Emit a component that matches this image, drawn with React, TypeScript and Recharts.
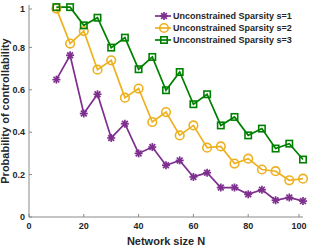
import { Legend, Line, LineChart, XAxis, YAxis } from "recharts";

const SIZES = [10, 15, 20, 25, 30, 35, 40, 45, 50, 55, 60, 65, 70, 75, 80, 85, 90, 95, 100];
const S1 = [0.648, 0.763, 0.488, 0.579, 0.373, 0.44, 0.3, 0.33, 0.244, 0.267, 0.189, 0.209, 0.139, 0.139, 0.107, 0.129, 0.079, 0.092, 0.075];
const S2 = [0.983, 0.818, 0.877, 0.695, 0.739, 0.563, 0.606, 0.448, 0.495, 0.385, 0.432, 0.327, 0.333, 0.252, 0.275, 0.224, 0.216, 0.173, 0.181];
const S3 = [0.99, 0.99, 0.904, 0.94, 0.799, 0.846, 0.697, 0.755, 0.598, 0.684, 0.532, 0.579, 0.432, 0.472, 0.385, 0.417, 0.323, 0.346, 0.271];

const X_TICKS = [0, 20, 40, 60, 80, 100];
const Y_TICKS = [0, 0.2, 0.4, 0.6, 0.8, 1];

const FONT = "'Liberation Sans', Arial, sans-serif";
const AXIS = "#8a8a8a";
const INK = "#262626";

const SERIES = [
  { key: "s1", name: "Unconstrained Sparsity s=1", color: "#7E2F8E", marker: "star" },
  { key: "s2", name: "Unconstrained Sparsity s=2", color: "#EDB120", marker: "circle" },
  { key: "s3", name: "Unconstrained Sparsity s=3", color: "#008000", marker: "square" },
];

const data = SIZES.map((n, i) => ({ n, s1: S1[i], s2: S2[i], s3: S3[i] }));

function Marker({ cx, cy, kind, color }: any) {
  if (cx == null || cy == null) return null;
  if (kind === "circle") {
    return <circle cx={cx} cy={cy} r={4.3} fill="none" stroke={color} strokeWidth={1.6} />;
  }
  if (kind === "square") {
    return <rect x={cx - 3.2} y={cy - 3.2} width={6.4} height={6.4} fill="none" stroke={color} strokeWidth={1.6} />;
  }
  const r = 4;
  const d = r * 0.72;
  return (
    <g stroke={color} strokeWidth={1.7}>
      <line x1={cx - r} y1={cy} x2={cx + r} y2={cy} />
      <line x1={cx} y1={cy - r} x2={cx} y2={cy + r} />
      <line x1={cx - d} y1={cy - d} x2={cx + d} y2={cy + d} />
      <line x1={cx - d} y1={cy + d} x2={cx + d} y2={cy - d} />
    </g>
  );
}

const TICK_TEXT = { fontFamily: FONT, fontSize: 9, fontWeight: 700, fill: INK };
const TITLE_TEXT = { fontFamily: FONT, fontSize: 11, fontWeight: 700, fill: INK };

function BottomTick({ x, y, payload }: any) {
  return (
    <g>
      <line x1={x} x2={x} y1={y - 6} y2={y - 9} stroke={AXIS} />
      <text x={x} y={y} dy="0.71em" textAnchor="middle" {...TICK_TEXT}>
        {payload.value}
      </text>
    </g>
  );
}

function LeftTick({ x, y, payload }: any) {
  return (
    <g>
      <line x1={x + 4} x2={x + 7} y1={y} y2={y} stroke={AXIS} />
      <text x={x} y={y} dy="0.35em" textAnchor="end" {...TICK_TEXT}>
        {payload.value}
      </text>
    </g>
  );
}

function TopTick({ x, y }: any) {
  return <line x1={x} x2={x} y1={y} y2={y + 3} stroke={AXIS} />;
}

function RightTick({ x, y }: any) {
  return <line x1={x} x2={x - 3} y1={y} y2={y} stroke={AXIS} />;
}

function YTitle({ viewBox }: any) {
  const cx = 9;
  const cy = viewBox.y + viewBox.height / 2;
  return (
    <text x={cx} y={cy} textAnchor="middle" transform={`rotate(-90, ${cx}, ${cy})`} {...TITLE_TEXT}>
      Probability of controllability
    </text>
  );
}

function LegendBox() {
  return (
    <div style={{ fontFamily: FONT, fontSize: 9, fontWeight: 700, color: INK }}>
      {SERIES.map((s) => (
        <div key={s.key} style={{ display: "flex", alignItems: "center", height: 12.3 }}>
          <svg width={18} height={12} style={{ marginRight: 1, flex: "none" }}>
            <line x1={1} x2={17} y1={6} y2={6} stroke={s.color} strokeWidth={1.7} />
            <Marker cx={10} cy={6} kind={s.marker} color={s.color} />
          </svg>
          <span style={{ whiteSpace: "nowrap" }}>{s.name}</span>
        </div>
      ))}
    </div>
  );
}

export default function App() {
  return (
    <div style={{ position: "absolute", left: 0, top: 0, width: 311, height: 246, background: "#fff" }}>
      <LineChart width={311} height={246} data={data} margin={{ top: 5, right: 8, bottom: 0, left: 0 }}>
        <XAxis
          dataKey="n"
          type="number"
          domain={[0, 100]}
          ticks={X_TICKS}
          tickSize={0}
          tickMargin={6}
          tick={<BottomTick />}
          height={29}
          stroke={AXIS}
          label={{ value: "Network size N", position: "insideBottom", offset: 1.5, style: TITLE_TEXT }}
        />
        <XAxis
          xAxisId="top"
          dataKey="n"
          type="number"
          orientation="top"
          domain={[0, 100]}
          ticks={X_TICKS}
          tickSize={0}
          tickMargin={0}
          tick={<TopTick />}
          height={0}
          stroke={AXIS}
        />
        <YAxis
          type="number"
          domain={[0, 1]}
          ticks={Y_TICKS}
          tickSize={0}
          tickMargin={4}
          tick={<LeftTick />}
          width={29}
          stroke={AXIS}
          label={<YTitle />}
        />
        <YAxis
          yAxisId="right"
          type="number"
          orientation="right"
          domain={[0, 1]}
          ticks={Y_TICKS}
          tickSize={0}
          tickMargin={0}
          tick={<RightTick />}
          width={0}
          stroke={AXIS}
        />
        <Legend
          layout="vertical"
          align="center"
          verticalAlign="middle"
          content={<LegendBox />}
          wrapperStyle={{ top: 9.5, left: 154, width: 154 }}
        />
        {SERIES.map((s) => (
          <Line
            key={s.key}
            dataKey={s.key}
            name={s.name}
            stroke={s.color}
            strokeWidth={1.7}
            isAnimationActive={false}
            dot={(p: any) => <Marker key={`${s.key}-${p.index}`} cx={p.cx} cy={p.cy} kind={s.marker} color={s.color} />}
          />
        ))}
      </LineChart>
    </div>
  );
}
